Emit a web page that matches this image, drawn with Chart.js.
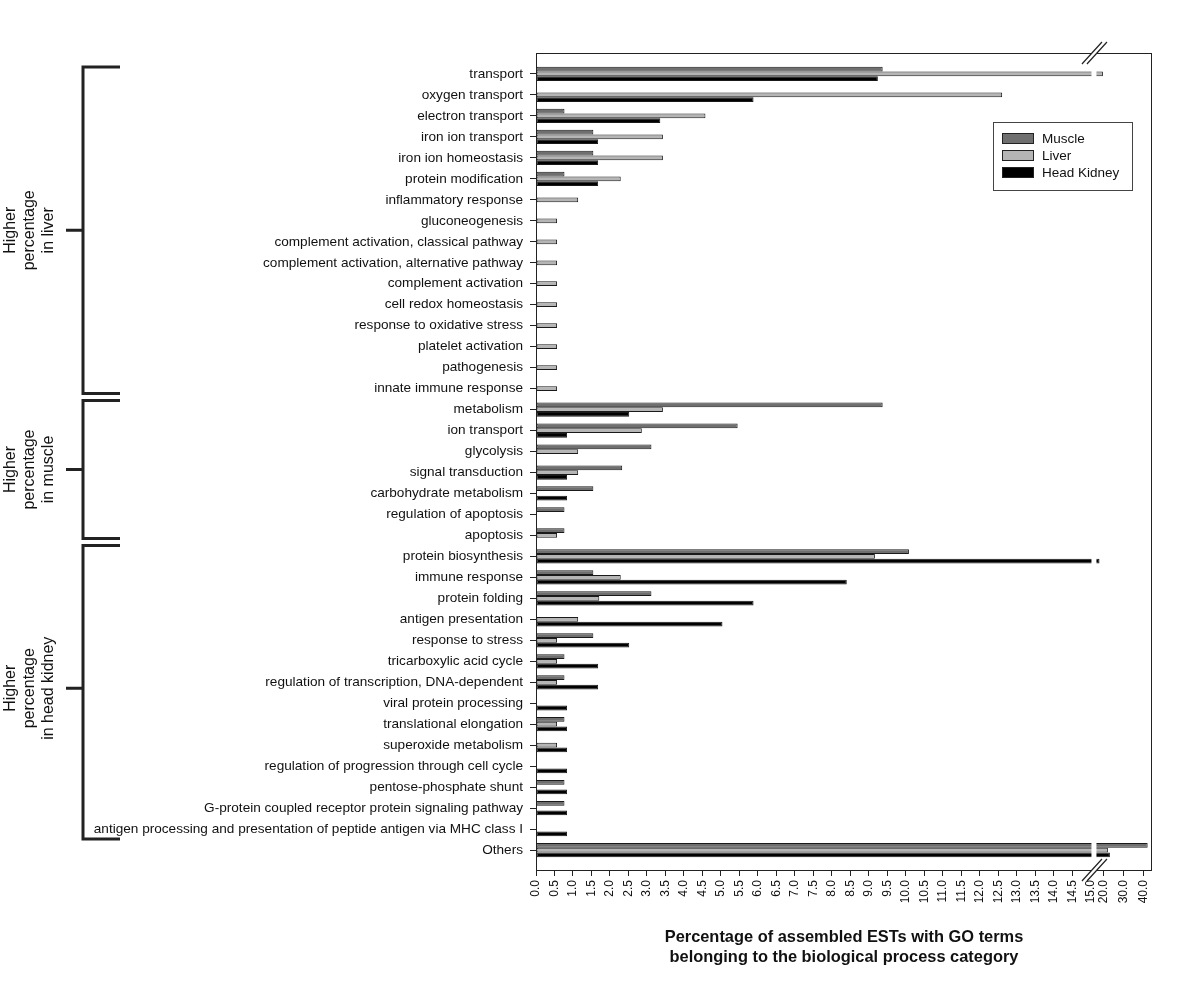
<!DOCTYPE html>
<html>
<head>
<meta charset="utf-8">
<script src="https://cdn.jsdelivr.net/npm/chart.js@4/dist/chart.umd.min.js"></script>
<style>
  html, body { margin: 0; padding: 0; background: #fff; }
  #wrap { width: 1200px; height: 1006px; }
</style>
</head>
<body>
<div id="wrap"><canvas id="goChart" width="1200" height="1006"></canvas></div>
<script>
// GO biological process percentages per tissue (broken x axis after 15)

const categories = [
    "transport", "oxygen transport", "electron transport", "iron ion transport",
    "iron ion homeostasis", "protein modification", "inflammatory response",
    "gluconeogenesis", "complement activation, classical pathway",
    "complement activation, alternative pathway", "complement activation",
    "cell redox homeostasis", "response to oxidative stress", "platelet activation",
    "pathogenesis", "innate immune response",
    "metabolism", "ion transport", "glycolysis", "signal transduction",
    "carbohydrate metabolism", "regulation of apoptosis", "apoptosis",
    "protein biosynthesis", "immune response", "protein folding",
    "antigen presentation", "response to stress", "tricarboxylic acid cycle",
    "regulation of transcription, DNA-dependent", "viral protein processing",
    "translational elongation", "superoxide metabolism",
    "regulation of progression through cell cycle", "pentose-phosphate shunt",
    "G-protein coupled receptor protein signaling pathway",
    "antigen processing and presentation of peptide antigen via MHC class I",
    "Others"
];

const muscle = [
    9.37, null, 0.77, 1.55, 1.55, 0.77, null, null, null, null, null, null, null, null, null, null,
    9.37, 5.45, 3.12, 2.33, 1.55, 0.77, 0.77,
    10.08, 1.55, 3.12, null, 1.55, 0.77, 0.77, null, 0.77, null, null, 0.77, 0.77, null,
    41.9
];

const liver = [
    19.5, 12.6, 4.58, 3.43, 3.43, 2.29, 1.14, 0.57, 0.57, 0.57, 0.57, 0.57, 0.57, 0.57, 0.57, 0.57,
    3.43, 2.86, 1.14, 1.14, null, null, 0.57,
    9.16, 2.29, 1.71, 1.14, 0.57, 0.57, 0.57, null, 0.57, 0.57, null, null, null, null,
    22
];

const headKidney = [
    9.24, 5.88, 3.36, 1.68, 1.68, 1.68, null, null, null, null, null, null, null, null, null, null,
    2.52, 0.84, null, 0.84, 0.84, null, null,
    17.8, 8.4, 5.88, 5.04, 2.52, 1.68, 1.68, 0.84, 0.84, 0.84, 0.84, 0.84, 0.84, 0.84,
    23
];

const xTickValues = [
    0, 0.5, 1, 1.5, 2, 2.5, 3, 3.5, 4, 4.5, 5, 5.5, 6, 6.5, 7, 7.5, 8, 8.5, 9, 9.5,
    10, 10.5, 11, 11.5, 12, 12.5, 13, 13.5, 14, 14.5, 15, 20, 30, 40
];

const groupNames = [
    ["Higher", "percentage", "in liver"],
    ["Higher", "percentage", "in muscle"],
    ["Higher", "percentage", "in head kidney"]
];
const groupFirst = [0, 16, 23];
const groupLast = [15, 22, 36];

const seriesNames = ["Muscle", "Liver", "Head Kidney"];
const seriesColors = ["#6f6f6f", "#b5b5b5", "#000000"];

const xTitle = [
    "Percentage of assembled ESTs with GO terms",
    "belonging to the biological process category"
];

// broken axis: 0-15 linear, then 20-40 squeezed into a short stretch
const BREAK = 15;
function toAxis(v) {
    if (v === null) return null;
    if (v <= BREAK) return v;
    return 15.35 + (v - 20) * 0.054;
}

function toPoints(values) {
    return values.map((v, i) => ({ x: toAxis(v), y: i }));
}

Chart.defaults.font.family = '"Liberation Sans", Arial, Helvetica, sans-serif';
Chart.defaults.color = "#111";

const decorPlugin = {
    id: "decor",
    afterDatasetsDraw(chart) {
        const ctx = chart.ctx;
        const area = chart.chartArea;
        const xs = chart.scales.x;
        const ys = chart.scales.y;

        // white gap for the axis break
        const gx = xs.getPixelForValue(BREAK);
        ctx.save();
        ctx.fillStyle = "#fff";
        ctx.fillRect(gx + 0.5, area.top + 1, 5, area.bottom - area.top - 2);
        ctx.restore();

        // frame
        ctx.save();
        ctx.strokeStyle = "#222";
        ctx.lineWidth = 1;
        ctx.strokeRect(area.left + 0.5, area.top + 0.5, area.right - area.left - 1, area.bottom - area.top);
        ctx.restore();

        // break marks top and bottom
        ctx.save();
        ctx.strokeStyle = "#222";
        ctx.lineWidth = 1.2;
        [area.top, area.bottom].forEach(yy => {
            ctx.fillStyle = "#fff";
            ctx.beginPath();
            ctx.moveTo(gx - 9, yy + 11);
            ctx.lineTo(gx + 11, yy - 11);
            ctx.lineTo(gx + 16, yy - 11);
            ctx.lineTo(gx - 4, yy + 11);
            ctx.closePath();
            ctx.fill();
            ctx.beginPath();
            ctx.moveTo(gx - 9, yy + 11);
            ctx.lineTo(gx + 11, yy - 11);
            ctx.moveTo(gx - 4, yy + 11);
            ctx.lineTo(gx + 16, yy - 11);
            ctx.stroke();
        });
        ctx.restore();

        // legend box
        const lx = area.right - 159, ly = area.top + 69;
        ctx.save();
        ctx.fillStyle = "#fff";
        ctx.fillRect(lx, ly, 139, 68);
        ctx.strokeStyle = "#444";
        ctx.lineWidth = 1;
        ctx.strokeRect(lx + 0.5, ly + 0.5, 139, 68);
        ctx.font = '13.5px "Liberation Sans", Arial, sans-serif';
        ctx.textBaseline = "middle";
        ctx.textAlign = "left";
        seriesNames.forEach((name, i) => {
            const cy = ly + 17 + i * 17;
            ctx.fillStyle = seriesColors[i];
            ctx.fillRect(lx + 9.5, cy - 5.5, 31, 10);
            ctx.strokeStyle = "#222";
            ctx.strokeRect(lx + 9.5, cy - 5.5, 31, 10);
            ctx.fillStyle = "#111";
            ctx.fillText(name, lx + 49, cy);
        });
        ctx.restore();

        // brackets and group labels on the left
        const padTop = [7, 9, 11];
        const padBottom = [5, 3, 10];
        const midShift = [0, 0, -4];
        ctx.save();
        ctx.strokeStyle = "#222";
        ctx.lineWidth = 3;
        ctx.font = '16px "Liberation Sans", Arial, sans-serif';
        ctx.fillStyle = "#111";
        ctx.textAlign = "center";
        ctx.textBaseline = "middle";
        groupNames.forEach((lines, g) => {
            const top = ys.getPixelForValue(groupFirst[g]) - padTop[g];
            const bot = ys.getPixelForValue(groupLast[g]) + padBottom[g];
            const mid = (top + bot) / 2 + midShift[g];
            ctx.beginPath();
            ctx.moveTo(120, top);
            ctx.lineTo(83, top);
            ctx.lineTo(83, bot);
            ctx.lineTo(120, bot);
            ctx.moveTo(66, mid);
            ctx.lineTo(83, mid);
            ctx.stroke();

            ctx.save();
            ctx.translate(11, mid);
            ctx.rotate(-Math.PI / 2);
            lines.forEach((t, i) => ctx.fillText(t, 0, i * 19));
            ctx.restore();
        });
        ctx.restore();

        // x axis title
        ctx.save();
        ctx.font = 'bold 16.4px "Liberation Sans", Arial, sans-serif';
        ctx.fillStyle = "#111";
        ctx.textAlign = "center";
        ctx.textBaseline = "middle";
        const cx = (area.left + area.right) / 2;
        xTitle.forEach((t, i) => ctx.fillText(t, cx, 937 + i * 20));
        ctx.restore();
    }
};

new Chart(document.getElementById("goChart"), {
    type: "bar",
    data: {
        datasets: [
            { label: seriesNames[0], data: toPoints(muscle), backgroundColor: seriesColors[0] },
            { label: seriesNames[1], data: toPoints(liver), backgroundColor: seriesColors[1] },
            { label: seriesNames[2], data: toPoints(headKidney), backgroundColor: seriesColors[2] }
        ].map(ds => Object.assign(ds, {
            borderColor: "#1a1a1a",
            borderWidth: 1,
            borderSkipped: false,
            categoryPercentage: 0.68,
            barPercentage: 1.0
        }))
    },
    options: {
        indexAxis: "y",
        responsive: false,
        animation: false,
        devicePixelRatio: 1,
        layout: { padding: { top: 53, right: 48, left: 0, bottom: 0 } },
        plugins: {
            legend: { display: false },
            tooltip: { enabled: false }
        },
        scales: {
            y: {
                type: "linear",
                reverse: true,
                offset: false,
                min: -1,
                max: 37.95,
                afterFit: scale => { scale.width = 536; },
                afterBuildTicks: scale => {
                    scale.ticks = categories.map((c, i) => ({ value: i }));
                },
                grid: { drawOnChartArea: false, offset: false, tickLength: 6, color: "#222" },
                border: { display: false },
                ticks: {
                    autoSkip: false,
                    padding: 7,
                    color: "#111",
                    font: { size: 13.6 },
                    callback: (v) => categories[v]
                }
            },
            x: {
                type: "linear",
                min: 0,
                max: 16.65,
                afterFit: scale => { scale.height = 136; },
                afterBuildTicks: scale => {
                    scale.ticks = xTickValues.map(v => ({ value: toAxis(v) }));
                },
                grid: { drawOnChartArea: false, tickLength: 6, color: "#222" },
                border: { display: false },
                ticks: {
                    autoSkip: false,
                    minRotation: 90,
                    maxRotation: 90,
                    padding: 4,
                    color: "#111",
                    font: { size: 12 },
                    callback: (v, i) => xTickValues[i].toFixed(1)
                }
            }
        }
    },
    plugins: [decorPlugin]
});
</script>
</body>
</html>
